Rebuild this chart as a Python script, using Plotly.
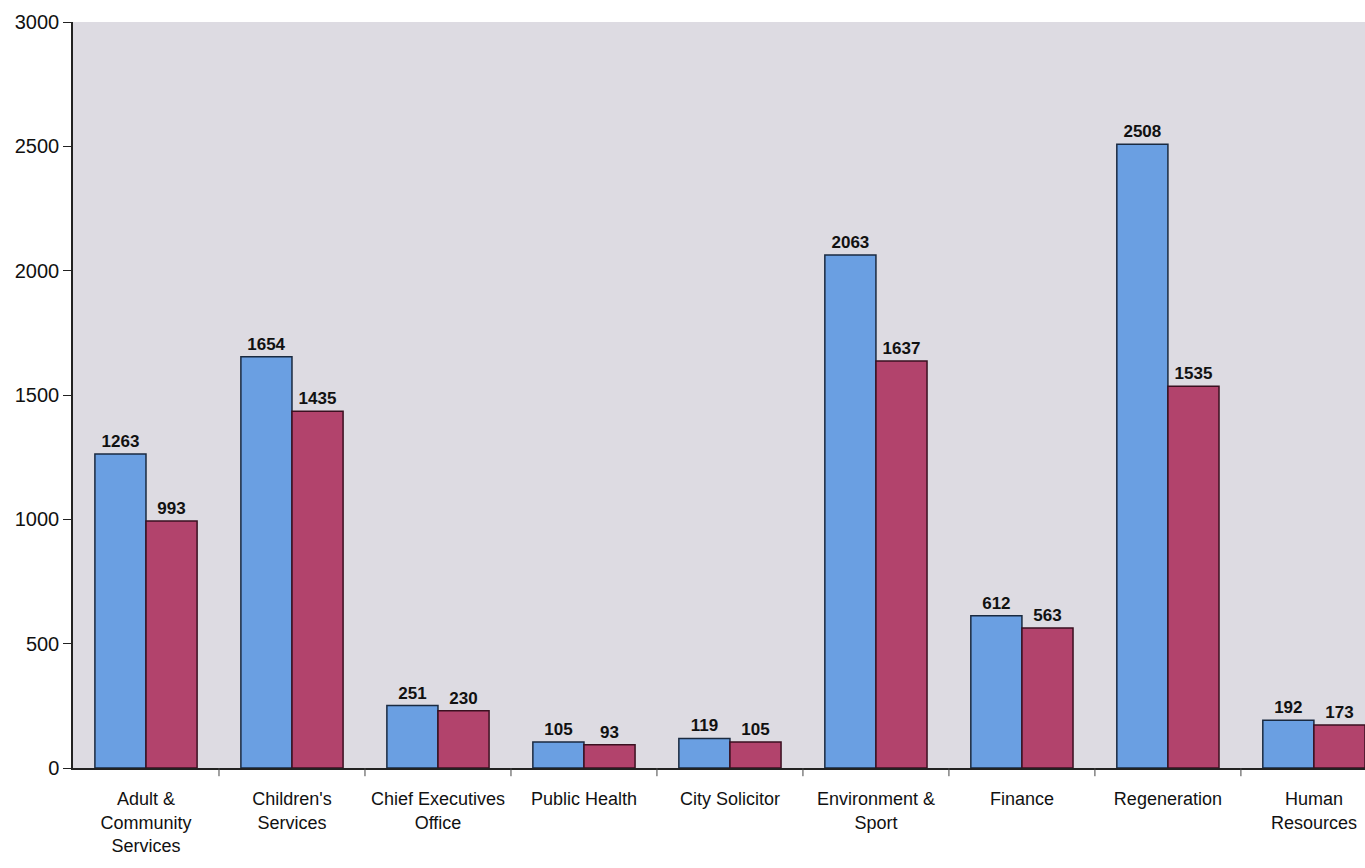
import plotly.graph_objects as go

categories = ["Adult &<br>Community<br>Services", "Children's<br>Services", "Chief Executives<br>Office",
              "Public Health", "City Solicitor", "Environment &<br>Sport", "Finance",
              "Regeneration", "Human<br>Resources"]
series_a = [1263, 1654, 251, 105, 119, 2063, 612, 2508, 192]
series_b = [993, 1435, 230, 93, 105, 1637, 563, 1535, 173]
y_ticks = [0, 500, 1000, 1500, 2000, 2500, 3000]

FONT = "Liberation Sans, Arial"
label_font = dict(family=FONT, size=17, color="#111", weight="bold")

fig = go.Figure()
fig.add_trace(go.Bar(x=list(range(len(categories))), y=series_a,
                     marker=dict(color="#6a9fe2", line=dict(color="#1a2a40", width=1.5)),
                     text=series_a, textposition="outside", cliponaxis=False, textfont=label_font))
fig.add_trace(go.Bar(x=list(range(len(categories))), y=series_b,
                     marker=dict(color="#b2436c", line=dict(color="#3a1020", width=1.5)),
                     text=series_b, textposition="outside", cliponaxis=False, textfont=label_font))

fig.update_layout(
    width=1365, height=868,
    margin=dict(l=73, r=0, t=22, b=100),
    paper_bgcolor="white", plot_bgcolor="#dddbe2",
    barmode="group", bargap=0.3, bargroupgap=0,
    showlegend=False,
    font=dict(family=FONT, color="#111"),
)
fig.update_xaxes(tickmode="array", tickvals=list(range(len(categories))), ticktext=categories,
                 range=[-0.5, 8.35], showgrid=False, showline=True, linecolor="#222", linewidth=1.5,
                 tickfont=dict(size=18), ticks="", zeroline=False, ticklabelstandoff=14)
fig.update_yaxes(range=[0, 3000], tickvals=y_ticks, showgrid=False, showline=True, linecolor="#222",
                 linewidth=1.5, ticks="outside", ticklen=8, tickcolor="#222",
                 tickfont=dict(size=20), zeroline=False)
for i in range(len(categories)):
    fig.add_shape(type="line", xref="x", yref="paper", x0=i + 0.5, x1=i + 0.5, y0=0, y1=-0.011,
                  line=dict(color="#444", width=1))
fig.write_html("out.html")
